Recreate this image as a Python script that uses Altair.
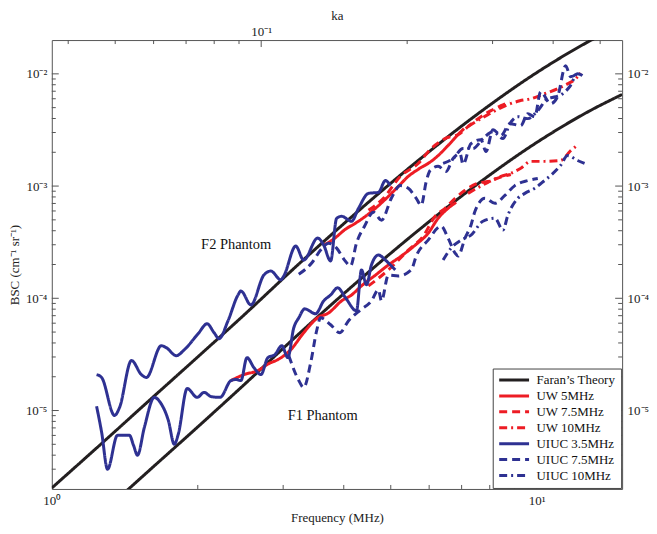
import altair as alt
import pandas as pd

FONT = "Liberation Serif"

# ---------------- data (frequency in MHz, BSC in cm^-1 sr^-1) ----------------
SERIES = ["Faran\u2019s Theory", "UW 5MHz", "UW 7.5MHz", "UW 10MHz",
          "UIUC 3.5MHz", "UIUC 7.5MHz", "UIUC 10MHz"]
COLORS = ["#231f20", "#ed1c24", "#ed1c24", "#ed1c24", "#2e3192", "#2e3192", "#2e3192"]
DASHES = [[1, 0], [1, 0], [8, 5], [8, 4, 2, 4], [1, 0], [8, 5], [8, 4, 2, 4]]

FARAN_F = [1.0, 1.255, 1.589, 2.013, 2.455, 3.231, 4.351, 5.696, 7.565, 10.05, 12.85, 15.0]
FARAN_F2 = [2.04e-6, 4.9e-6, 1.23e-5, 3.08e-5, 6.7e-5, 2.02e-4, 6.34e-4, 1.69e-3, 4.41e-3, 1.04e-2, 1.96e-2, 2.75e-2]
FARAN_F1 = [4.86e-7, 1.17e-6, 2.93e-6, 7.33e-6, 1.6e-5, 4.81e-5, 1.51e-4, 4.02e-4, 1.05e-3, 2.48e-3, 4.67e-3, 6.55e-3]

UW5_F2_F = [3.636, 3.812, 4.034, 4.229, 4.435, 4.650, 4.897, 5.183, 5.434, 5.696, 6.057, 6.261, 6.565, 6.883, 7.081]
UW5_F2_B = [2.98e-4, 3.37e-4, 4.13e-4, 4.67e-4, 5.38e-4, 6.34e-4, 7.78e-4, 9.93e-4, 1.22e-3, 1.41e-3, 1.66e-3, 1.87e-3, 2.30e-3, 2.88e-3, 3.25e-3]
UW5_F1_F = [2.342, 2.490, 2.661, 2.803, 2.925, 3.110, 3.307, 3.534, 3.723, 3.959, 4.151, 4.351, 4.650, 4.943, 5.256, 5.617, 5.972, 6.261, 6.565, 6.819]
UW5_F1_B = [1.85e-5, 2.09e-5, 2.27e-5, 2.62e-5, 2.84e-5, 3.48e-5, 4.93e-5, 6.70e-5, 7.41e-5, 9.48e-5, 1.07e-4, 1.29e-4, 1.61e-4, 1.98e-4, 2.38e-4, 2.98e-4, 3.80e-4, 5.16e-4, 6.34e-4, 7.16e-4]

UW75_F2_F = [4.498, 4.829, 5.232, 5.696, 6.057, 6.473, 6.948, 7.216, 7.674, 8.046, 8.437, 8.803]
UW75_F2_B = [6.08e-4, 7.78e-4, 1.22e-3, 1.59e-3, 2.16e-3, 2.65e-3, 2.94e-3, 3.39e-3, 4.15e-3, 4.70e-3, 5.20e-3, 5.65e-3]
UW75_F1_F = [4.498, 4.943, 5.434, 5.834, 6.173, 6.473, 6.786, 7.115, 7.565, 7.933, 8.517, 8.843]
UW75_F1_B = [1.29e-4, 1.79e-4, 2.69e-4, 3.58e-4, 5.38e-4, 6.34e-4, 7.78e-4, 9.16e-4, 1.06e-3, 1.10e-3, 1.22e-3, 1.27e-3]

UW10_F2_F = [7.216, 7.933, 8.720, 9.228, 9.721, 10.38, 11.04, 11.58, 12.03, 12.31]
UW10_F2_B = [3.39e-3, 4.33e-3, 5.31e-3, 5.75e-3, 6.00e-3, 6.65e-3, 7.36e-3, 8.15e-3, 9.03e-3, 1.02e-2]
UW10_F1_F = [7.216, 7.933, 8.437, 8.843, 9.271, 9.721, 10.38, 11.20, 11.75, 12.03]
UW10_F1_B = [8.61e-4, 1.08e-3, 1.22e-3, 1.30e-3, 1.44e-3, 1.66e-3, 1.66e-3, 1.69e-3, 2.07e-3, 2.25e-3]

UIUC35_F2_F = [1.237, 1.267, 1.347, 1.379, 1.460, 1.530, 1.567, 1.682, 1.722, 1.806, 1.876, 2.003, 2.091, 2.161,
               2.213, 2.309, 2.421, 2.455, 2.574, 2.737, 2.829, 2.967, 3.009, 3.185, 3.307, 3.534, 3.636, 3.758,
               3.867, 3.959, 4.151, 4.290, 4.498, 4.716, 4.875, 4.991]
UIUC35_F2_B = [2.09e-5, 1.97e-5, 9.04e-6, 1.06e-5, 2.79e-5, 2.09e-5, 1.97e-5, 3.78e-5, 3.63e-5, 3.08e-5, 3.48e-5,
               4.83e-5, 5.93e-5, 4.93e-5, 4.37e-5, 6.31e-5, 1.07e-4, 1.16e-4, 8.73e-5, 1.61e-4, 1.75e-4, 1.46e-4,
               1.58e-4, 2.92e-4, 2.19e-4, 3.44e-4, 2.98e-4, 2.15e-4, 5.16e-4, 5.38e-4, 4.86e-4, 6.34e-4, 8.61e-4,
               8.79e-4, 1.12e-3, 1.01e-3]
UIUC35_F1_F = [1.237, 1.267, 1.303, 1.366, 1.446, 1.474, 1.502, 1.552, 1.627, 1.674, 1.739, 1.789, 1.823, 1.902,
               1.994, 2.062, 2.131, 2.223, 2.342, 2.398, 2.455, 2.526, 2.611, 2.699, 2.790, 2.884, 2.981, 3.067,
               3.155, 3.231, 3.323, 3.500, 3.636, 3.758, 3.885, 4.034, 4.249, 4.351, 4.456, 4.562, 4.716, 4.875,
               4.991, 5.109]
UIUC35_F1_B = [1.09e-5, 6.40e-6, 3.00e-6, 6.01e-6, 6.01e-6, 4.90e-6, 4.00e-6, 7.08e-6, 1.31e-5, 1.18e-5, 8.17e-6,
               5.00e-6, 6.14e-6, 1.57e-5, 1.31e-5, 1.45e-5, 1.33e-5, 1.31e-5, 1.85e-5, 1.89e-5, 1.85e-5, 2.96e-5,
               2.41e-5, 2.09e-5, 2.96e-5, 3.15e-5, 3.78e-5, 2.96e-5, 5.46e-5, 6.70e-5, 8.05e-5, 7.28e-5, 9.48e-5,
               1.07e-4, 1.24e-4, 1.01e-4, 7.73e-5, 1.79e-4, 1.32e-4, 1.98e-4, 2.43e-4, 2.19e-4, 1.98e-4, 1.79e-4]

UIUC75_F2_F = [3.231, 3.435, 3.584, 3.723, 3.867, 4.015, 4.131, 4.249, 4.414, 4.606, 4.784, 5.014, 5.232, 5.434,
               5.643, 5.779, 5.917, 6.030, 6.261, 6.503, 6.722, 6.948, 7.047, 7.318, 7.674, 7.858, 8.124, 8.437,
               8.803, 9.271, 9.584, 9.906, 10.19, 10.68, 11.04, 11.47, 11.75, 12.26]
UIUC75_F2_B = [1.64e-4, 2.06e-4, 2.69e-4, 3.10e-4, 2.80e-4, 2.19e-4, 1.94e-4, 3.10e-4, 4.39e-4, 5.85e-4, 4.97e-4,
               7.78e-4, 1.01e-3, 9.55e-4, 7.78e-4, 6.75e-4, 1.10e-3, 1.38e-3, 1.50e-3, 1.35e-3, 1.76e-3, 1.95e-3,
               1.56e-3, 2.39e-3, 2.59e-3, 2.03e-3, 3.18e-3, 2.82e-3, 3.60e-3, 3.46e-3, 4.42e-3, 4.15e-3, 6.92e-3,
               5.42e-3, 6.25e-3, 1.18e-2, 9.40e-3, 1.06e-2]
UIUC75_F1_F = [3.081, 3.231, 3.307, 3.419, 3.517, 3.584, 3.758, 3.922, 4.092, 4.331, 4.562, 4.716, 4.784, 4.943,
               5.183, 5.511, 5.643, 5.972, 6.352, 6.565, 6.786, 6.883, 7.115, 7.318, 7.459, 7.820, 8.200, 8.597,
               9.013, 9.584, 10.05]
UIUC75_F1_B = [3.08e-5, 1.85e-5, 1.60e-5, 2.67e-5, 5.14e-5, 6.70e-5, 5.81e-5, 4.93e-5, 6.31e-5, 7.89e-5, 9.48e-5,
               1.19e-4, 9.48e-5, 1.61e-4, 1.58e-4, 1.79e-4, 2.38e-4, 3.30e-4, 4.39e-4, 3.44e-4, 2.53e-4, 2.38e-4,
               3.44e-4, 4.48e-4, 5.96e-4, 7.78e-4, 7.02e-4, 8.26e-4, 1.01e-3, 1.12e-3, 1.17e-3]

UIUC10_F2_F = [6.412, 6.722, 7.047, 7.388, 7.747, 8.124, 8.517, 8.803, 9.141, 9.584, 10.05, 10.53, 10.94, 11.31,
               11.69, 12.14, 12.55]
UIUC10_F2_B = [1.59e-3, 1.76e-3, 2.16e-3, 2.16e-3, 2.65e-3, 3.05e-3, 2.65e-3, 3.60e-3, 4.15e-3, 3.99e-3, 4.70e-3,
               6.00e-3, 6.25e-3, 6.65e-3, 7.67e-3, 1.00e-2, 9.40e-3]
UIUC10_F1_F = [6.412, 6.659, 6.981, 7.318, 7.747, 8.200, 8.517, 8.720, 9.141, 9.449, 9.906, 10.38, 10.68, 11.20,
               11.58, 12.14, 12.55]
UIUC10_F1_B = [2.19e-4, 2.80e-4, 3.30e-4, 3.66e-4, 4.86e-4, 5.16e-4, 4.05e-4, 5.50e-4, 7.78e-4, 8.61e-4, 9.55e-4,
               1.12e-3, 1.24e-3, 1.53e-3, 1.87e-3, 1.69e-3, 1.59e-3]

ANNOT_TEXT = ["F2 Phantom", "F1 Phantom"]
ANNOT_F = [2.40, 3.62]
ANNOT_B = [3.0e-4, 9.0e-6]

X_MINOR = [2, 3, 4, 5, 6, 7, 8, 9]
X_MAJOR = [10]
Y_MAJOR = [1e-5, 1e-4, 1e-3, 1e-2]
Y_MINOR = [3e-6, 4e-6, 5e-6, 6e-6, 7e-6, 8e-6, 9e-6,
           2e-5, 3e-5, 4e-5, 5e-5, 6e-5, 7e-5, 8e-5, 9e-5,
           2e-4, 3e-4, 4e-4, 5e-4, 6e-4, 7e-4, 8e-4, 9e-4,
           2e-3, 3e-3, 4e-3, 5e-3, 6e-3, 7e-3, 8e-3, 9e-3]
KA_PER_MHZ = 0.0370
KA_MINOR = [0.04, 0.05, 0.06, 0.07, 0.08, 0.09, 0.2, 0.3, 0.4, 0.5]
KA_MAJOR = [0.1]

# ---------------- tables ----------------
rows = []
def add(series, group, fs, bs):
    for f, b in zip(fs, bs):
        rows.append({"series": series, "group": group, "f": f, "bsc": b})

add(SERIES[0], "F2", FARAN_F, FARAN_F2)
add(SERIES[0], "F1", FARAN_F, FARAN_F1)
add(SERIES[1], "F2", UW5_F2_F, UW5_F2_B)
add(SERIES[1], "F1", UW5_F1_F, UW5_F1_B)
add(SERIES[2], "F2", UW75_F2_F, UW75_F2_B)
add(SERIES[2], "F1", UW75_F1_F, UW75_F1_B)
add(SERIES[3], "F2", UW10_F2_F, UW10_F2_B)
add(SERIES[3], "F1", UW10_F1_F, UW10_F1_B)
add(SERIES[4], "F2", UIUC35_F2_F, UIUC35_F2_B)
add(SERIES[4], "F1", UIUC35_F1_F, UIUC35_F1_B)
add(SERIES[5], "F2", UIUC75_F2_F, UIUC75_F2_B)
add(SERIES[5], "F1", UIUC75_F1_F, UIUC75_F1_B)
add(SERIES[6], "F2", UIUC10_F2_F, UIUC10_F2_B)
add(SERIES[6], "F1", UIUC10_F1_F, UIUC10_F1_B)
df = pd.DataFrame(rows)

annot = pd.DataFrame({"label": ANNOT_TEXT, "f": ANNOT_F, "bsc": ANNOT_B})

W, H = 573, 451
AXC = "#555555"
xscale = alt.Scale(type="log", domain=[1, 15], nice=False)
yscale = alt.Scale(type="log", domain=[2e-6, 2e-2], nice=False)

Y_LABELS = ("datum.value < 3e-5 ? '10\u207b\u2075' : datum.value < 3e-4 ? '10\u207b\u2074' : "
            "datum.value < 3e-3 ? '10\u207b\u00b3' : '10\u207b\u00b2'")

# legend symbol: a 30px horizontal stroke drawn to the right of the symbol slot
legend = alt.Legend(title=None, orient="bottom-right", offset=1,
                    symbolType="M-1,0H5", symbolSize=100, symbolStrokeWidth=3,
                    labelFont=FONT, labelFontSize=13, labelColor="#111",
                    strokeColor="#444", fillColor="white", padding=5,
                    rowPadding=2, labelOffset=26, labelLimit=200)

lines = alt.Chart(df).mark_line(clip=True, strokeWidth=3, interpolate="monotone").encode(
    x=alt.X("f:Q", scale=xscale,
            axis=alt.Axis(orient="bottom", values=[1, 10],
                          labelExpr="datum.value < 5 ? '10\u2070' : '10\u00b9'",
                          title="Frequency (MHz)", ticks=False, domain=False, grid=False,
                          labelPadding=6, titlePadding=4, labelFlush=False)),
    y=alt.Y("bsc:Q", scale=yscale,
            axis=alt.Axis(orient="left", values=Y_MAJOR, labelExpr=Y_LABELS,
                          title="BSC (cm\u207b\u00b9 sr\u207b\u00b9)", ticks=False, domain=False,
                          grid=False, labelPadding=5, titlePadding=4, labelFlush=False)),
    color=alt.Color("series:N", scale=alt.Scale(domain=SERIES, range=COLORS), legend=legend),
    strokeDash=alt.StrokeDash("series:N", scale=alt.Scale(domain=SERIES, range=DASHES), legend=legend),
    detail="group:N",
)

texts = alt.Chart(annot).mark_text(font=FONT, fontSize=14.5, color="#111").encode(
    x=alt.X("f:Q", scale=xscale, axis=None),
    y=alt.Y("bsc:Q", scale=yscale, axis=None),
    text="label:N",
)

def xticks(values, length, top=False):
    d = pd.DataFrame({"f": values})
    y0, y1 = (0, length) if top else (H, H - length)
    return alt.Chart(d).mark_rule(color=AXC, strokeWidth=1).encode(
        x=alt.X("f:Q", scale=xscale, axis=None), y=alt.value(y0), y2=alt.value(y1))

def yticks(values, length, right=False, axis=None):
    d = pd.DataFrame({"v": values})
    x0, x1 = (W, W - length) if right else (0, length)
    return alt.Chart(d).mark_rule(color=AXC, strokeWidth=1).encode(
        y=alt.Y("v:Q", scale=yscale, axis=axis), x=alt.value(x0), x2=alt.value(x1))

ka_minor = alt.Chart(pd.DataFrame({"ka": KA_MINOR})).transform_calculate(
    f=f"datum.ka / {KA_PER_MHZ}").mark_rule(color=AXC, strokeWidth=1).encode(
    x=alt.X("f:Q", scale=xscale, axis=None), y=alt.value(0), y2=alt.value(4))
ka_major = alt.Chart(pd.DataFrame({"ka": KA_MAJOR})).transform_calculate(
    f=f"datum.ka / {KA_PER_MHZ}").mark_rule(color=AXC, strokeWidth=1).encode(
    x=alt.X("f:Q", scale=xscale,
            axis=alt.Axis(orient="top", values=[k / KA_PER_MHZ for k in KA_MAJOR],
                          labelExpr="'10\u207b\u00b9'", title="ka", ticks=False, domain=False,
                          grid=False, labelPadding=2, titlePadding=3, labelFlush=False)),
    y=alt.value(0), y2=alt.value(7))

right_axis = alt.Axis(orient="right", values=Y_MAJOR, labelExpr=Y_LABELS, title=None,
                      ticks=False, domain=False, grid=False, labelPadding=5, labelFlush=False)

chart = alt.layer(
    lines, texts,
    xticks(X_MINOR, 4), xticks(X_MAJOR, 7),
    ka_minor, ka_major,
    yticks(Y_MINOR, 4), yticks(Y_MAJOR, 7),
    yticks(Y_MINOR, 4, right=True), yticks(Y_MAJOR, 7, right=True, axis=right_axis),
).resolve_axis(x="independent", y="independent").properties(
    width=W, height=H, padding=0, background="white"
).configure_view(stroke=AXC, strokeWidth=1).configure_axis(
    labelFont=FONT, titleFont=FONT, labelFontSize=13, titleFontSize=13,
    titleFontWeight="normal", labelColor="#222", titleColor="#222", grid=False
)

chart.save("out.html", embed_options={"renderer": "svg", "actions": False})
